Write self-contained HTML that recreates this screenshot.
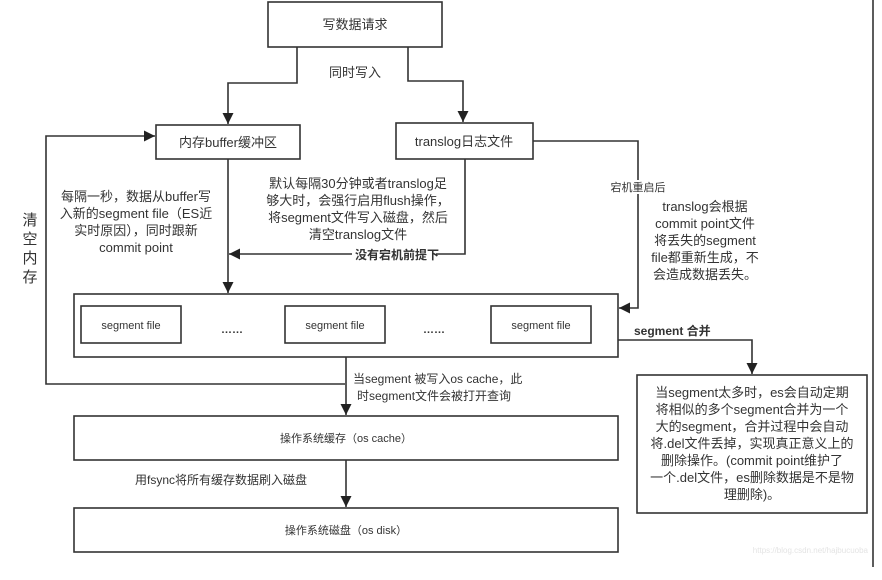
<!DOCTYPE html>
<html><head><meta charset="utf-8"><style>
html,body{margin:0;padding:0;background:#fff;}
svg{display:block;}
text{font-family:"Liberation Sans","Noto Sans CJK SC",sans-serif;fill:#333;}
</style></head><body>
<svg width="882" height="580" viewBox="0 0 882 580" xmlns="http://www.w3.org/2000/svg">
<defs><marker id="a" viewBox="0 0 10 10" refX="10" refY="5" markerWidth="7" markerHeight="7" orient="auto"><path d="M0,0L10,5L0,10z" fill="#222"/></marker></defs>
<g fill="none" stroke="#333" stroke-width="1.6">
<rect x="268" y="2" width="174" height="45"/>
<rect x="156" y="125" width="144" height="34"/>
<rect x="396" y="123" width="137" height="36"/>
<rect x="74" y="294" width="544" height="63"/>
<rect x="81" y="306" width="100" height="37"/>
<rect x="285" y="306" width="100" height="37"/>
<rect x="491" y="306" width="100" height="37"/>
<rect x="74" y="416" width="544" height="44"/>
<rect x="74" y="508" width="544" height="44"/>
<rect x="637" y="375" width="230" height="138"/>
<line x1="873" y1="0" x2="873" y2="567"/>
<polyline points="297,47 297,83 228,83 228,124" marker-end="url(#a)"/>
<polyline points="408,47 408,81 463,81 463,122" marker-end="url(#a)"/>
<polyline points="345,384 46,384 46,136 155,136" marker-end="url(#a)"/>
<polyline points="228,159 228,293" marker-end="url(#a)"/>
<polyline points="465,159 465,254 229,254" marker-end="url(#a)"/>
<polyline points="533,141 638,141 638,308 619,308" marker-end="url(#a)"/>
<polyline points="346,357 346,415" marker-end="url(#a)"/>
<polyline points="346,460 346,507" marker-end="url(#a)"/>
<polyline points="618,340 752,340 752,374" marker-end="url(#a)"/>
</g>
<rect x="352" y="247" width="84" height="14" fill="#fff"/>
<rect x="608" y="180" width="60" height="14" fill="#fff"/>
<g font-size="13" text-anchor="middle">
<text x="355" y="29">写数据请求</text>
<text x="355" y="77">同时写入</text>
<text x="228" y="147">内存buffer缓冲区</text>
<text x="464" y="146">translog日志文件</text>
<text x="136" y="201">每隔一秒，数据从buffer写</text>
<text x="136" y="218">入新的segment file（ES近</text>
<text x="136" y="235">实时原因），同时跟新</text>
<text x="136" y="252">commit point</text>
<text x="358" y="188">默认每隔30分钟或者translog足</text>
<text x="358" y="205">够大时，会强行启用flush操作，</text>
<text x="358" y="222">将segment文件写入磁盘，然后</text>
<text x="358" y="239">清空translog文件</text>
<text x="705" y="211">translog会根据</text>
<text x="705" y="228">commit point文件</text>
<text x="705" y="245">将丢失的segment</text>
<text x="705" y="262">file都重新生成，不</text>
<text x="705" y="279">会造成数据丢失。</text>
<text x="752" y="397">当segment太多时，es会自动定期</text>
<text x="752" y="414">将相似的多个segment合并为一个</text>
<text x="752" y="431">大的segment，合并过程中会自动</text>
<text x="752" y="448">将.del文件丢掉，实现真正意义上的</text>
<text x="752" y="465">删除操作。(commit point维护了</text>
<text x="752" y="482">一个.del文件，es删除数据是不是物</text>
<text x="752" y="499">理删除)。</text>
</g>
<g font-size="15" text-anchor="middle">
<text x="30" y="225">清</text><text x="30" y="244">空</text><text x="30" y="263">内</text><text x="30" y="282">存</text>
</g>
<g font-size="12">
<text x="355" y="259" font-weight="bold">没有宕机前提下</text>
<text x="638" y="191" font-size="11" text-anchor="middle">宕机重启后</text>
<text x="634" y="335" font-weight="bold">segment 合并</text>
<text x="353" y="383">当segment 被写入os cache，此</text>
<text x="357" y="400">时segment文件会被打开查询</text>
<text x="135" y="484">用fsync将所有缓存数据刷入磁盘</text>
</g>
<g font-size="11" text-anchor="middle">
<text x="131" y="329">segment file</text>
<text x="335" y="329">segment file</text>
<text x="541" y="329">segment file</text>
<text x="232" y="333" font-weight="bold">……</text>
<text x="434" y="333" font-weight="bold">……</text>
<text x="346" y="442">操作系统缓存（os cache）</text>
<text x="346" y="534">操作系统磁盘（os disk）</text>
</g>
<text x="868" y="553" font-size="8" text-anchor="end" style="fill:#e4e4e4">https://blog.csdn.net/hajbucuoba</text>
</svg>
</body></html>
